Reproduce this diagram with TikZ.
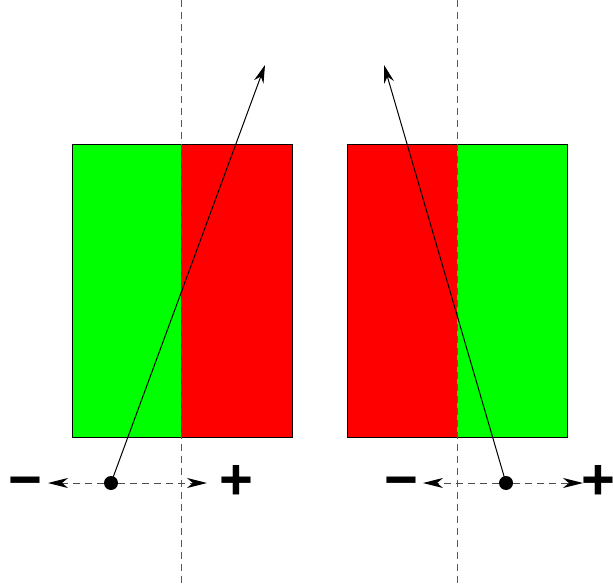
\documentclass[tikz,border=0pt]{standalone}
\usepackage{fontspec}
\setmainfont{Liberation Sans}
\usetikzlibrary{arrows.meta}
\definecolor{pgreen}{RGB}{0,255,0}
\definecolor{pred}{RGB}{255,0,0}
\tikzset{
  guide/.style={draw=black!65, dash pattern=on 7pt off 5pt, line width=1pt},
  pathline/.style={draw=black, line width=1pt, -{Stealth[length=18pt,width=10pt]}},
  dirarrow/.style={draw=black!70, dash pattern=on 7pt off 5pt, line width=1pt, -{Stealth[length=20pt,width=10pt,inset=6pt,black]}},
  dotnode/.style={circle, fill=black, inner sep=0pt, minimum size=14pt},
  sign/.style={inner sep=0pt, anchor=base, font=\fontsize{58}{58}\selectfont\bfseries},
  box/.style={draw=black, line width=0.8pt}
}
\begin{document}
\begin{tikzpicture}[x=1pt,y=-1pt]
\useasboundingbox (0,0) rectangle (613,588);
% left panel
\fill[pgreen] (72,144) rectangle (181,437);
\fill[pred] (181,144) rectangle (292,437);
\draw[box] (72,144) rectangle (292,437);
% right panel
\fill[pred] (347,144) rectangle (457,437);
\fill[pgreen] (457,144) rectangle (567,437);
\draw[box] (347,144) rectangle (567,437);
% guides
\coordinate (g1t) at (181,0); \coordinate (g1b) at (181,588);
\coordinate (g2t) at (457,0); \coordinate (g2b) at (457,588);
\draw[guide] (g1t) -- (g1b);
\draw[guide] (g2t) -- (g2b);
% dots
\node[dotnode] (d1) at (111,483) {};
\node[dotnode] (d2) at (506,483) {};
\coordinate (t1) at (265,65);
\coordinate (t2) at (384,65);
\coordinate (l1) at (48,483); \coordinate (r1) at (207,483);
\coordinate (l2) at (423,483); \coordinate (r2) at (583,483);
\draw[pathline] (d1.center) -- (t1);
\draw[pathline] (d2.center) -- (t2);
\draw[dirarrow] (d1) -- (l1);
\draw[dirarrow] (d1) -- (r1);
\draw[dirarrow] (d2) -- (l2);
\draw[dirarrow] (d2) -- (r2);
\node[sign] (m1) at (25,499) {\textminus};
\node[sign] (p1) at (236,499) {+};
\node[sign] (m2) at (401,499) {\textminus};
\node[sign] (p2) at (598,499) {+};
\end{tikzpicture}
\end{document}
